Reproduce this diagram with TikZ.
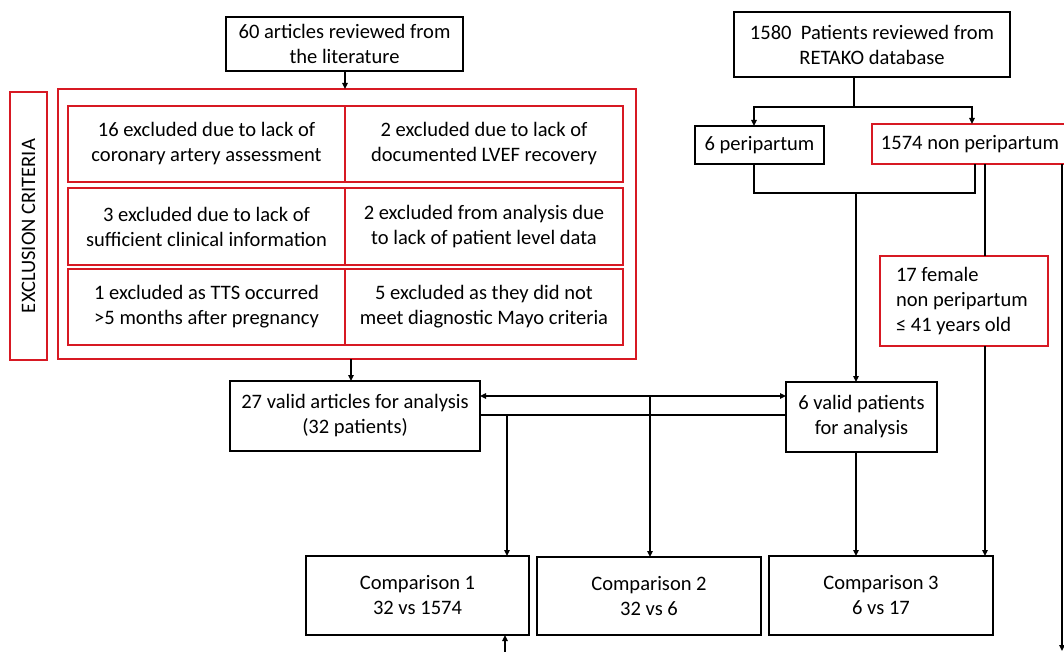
\documentclass[tikz,border=0pt]{standalone}
\usepackage{fontspec}
\setmainfont{Carlito}
\usetikzlibrary{arrows.meta}
\definecolor{boxred}{RGB}{215,25,35}
\begin{document}
\begin{tikzpicture}[x=0.75pt,y=-0.75pt,
  font=\fontsize{15.4}{18.75}\selectfont,
  base/.style={inner sep=0pt, outer sep=0pt, align=center},
  bbox/.style={base, draw=black, line width=1.9pt},
  cbox/.style={base, draw=black, line width=1.4pt},
  rbox/.style={base, draw=boxred, line width=1.7pt},
  conn/.style={line width=1.3pt},
  arr/.style={conn, -{Triangle[length=4.5pt,width=4pt]}},
  darr/.style={conn, {Triangle[length=4.5pt,width=4pt]}-{Triangle[length=4.5pt,width=4pt]}},
  sz/.style n args={2}{minimum width={#1*0.75pt}, minimum height={#2*0.75pt}}
]
\clip (0,0) rectangle (1064,652);
\fill[white] (0,0) rectangle (1064,652);

% left branch
\node[bbox, sz={237}{54}] (lit) at (344.5,44) {60 articles reviewed from\\the literature};
\node[rbox, sz={578}{270}] (excl) at (347,224) {};
\node[rbox, rotate=90, sz={268}{37}] (crit) at (28.5,226) {EXCLUSION CRITERIA};

\node[rbox, sz={277}{76}] (e1) at (206.5,144) {16 excluded due to lack of\\coronary artery assessment};
\node[rbox, sz={278}{76}] (e2) at (484,144) {2 excluded due to lack of\\documented LVEF recovery};
\node[rbox, sz={277}{77}] (e3) at (206.5,226.5) {3 excluded due to lack of\\sufficient clinical information};
\node[rbox, sz={278}{77}] (e4) at (484,226.5) {2 excluded from analysis due\\to lack of patient level data};
\node[rbox, sz={277}{76}] (e5) at (206.5,307) {1 excluded as TTS occurred\\>5 months after pregnancy};
\node[rbox, sz={278}{76}] (e6) at (484,307) {5 excluded as they did not\\meet diagnostic Mayo criteria};

\node[bbox, sz={250}{70}] (a27) at (355,416) {27 valid articles for analysis\\(32 patients)};

% right branch
\node[bbox, sz={276}{65}] (ret) at (872,44.5) {1580\ \ Patients reviewed from\\RETAKO database};
\node[bbox, sz={129}{38}] (peri) at (759.5,145) {6 peripartum};
\node[rbox, sz={196}{40}] (np) at (970,144) {1574 non peripartum};
\node[rbox, sz={168}{90}, text width=102pt, align=flush left] (fem) at (964,301) {17 female\\non peripartum\\≤ 41 years old};
\node[bbox, sz={151}{70}] (v6) at (861.5,417) {6 valid patients\\for analysis};

% comparisons
\node[cbox, sz={223}{79}] (c1) at (417.5,595.5) {Comparison 1\\32 vs 1574};
\node[cbox, sz={224}{78}] (c2) at (649,596) {Comparison 2\\32 vs 6};
\node[cbox, sz={224}{79}] (c3) at (881,595.5) {Comparison 3\\6 vs 17};

% helper coordinates
\coordinate (xsplit) at (854,107);
\coordinate (xperi) at (754,0);
\coordinate (xnp) at (972,0);
\coordinate (xmergeR) at (975,193);
\coordinate (xmerge) at (856,193);
\coordinate (xfem) at (985,0);
\coordinate (rb) at (1062,651);
\coordinate (bl) at (505,660);
\coordinate (xlit) at (345,0);
\coordinate (xexcl) at (351,0);
\coordinate (y396) at (0,396);
\coordinate (y415) at (0,415);
\coordinate (xc1) at (507,415);
\coordinate (xc2) at (650,396);

% left connectors
\draw[arr] (lit.south -| xlit) -- (excl.north -| xlit);
\draw[arr] (excl.south -| xexcl) -- (a27.north -| xexcl);

% right connectors
\draw[conn] (ret.south -| xsplit) -- (xsplit);
\draw[arr] (xsplit) -| (peri.north -| xperi);
\draw[arr] (xsplit) -| (np.north -| xnp);
\draw[conn] (peri.south -| xperi) |- (xmergeR) -- (np.south -| xmergeR);
\draw[arr] (xmerge) -- (v6.north -| xmerge);
\draw[conn] (np.south -| xfem) -- (fem.north -| xfem);
\draw[arr] (fem.south -| xfem) -- (c3.north -| xfem);
\draw[arr] (np.south -| rb) -- (rb);

% middle connectors
\draw[darr] (a27.east |- y396) -- (v6.west |- y396);
\draw[conn] (a27.east |- y415) -- (v6.west |- y415);
\draw[arr] (xc1) -- (c1.north -| xc1);
\draw[arr] (xc2) -- (c2.north -| xc2);
\draw[arr] (v6.south -| xmerge) -- (c3.north -| xmerge);
\draw[arr] (bl) -- (c1.south -| bl);
\end{tikzpicture}
\end{document}
